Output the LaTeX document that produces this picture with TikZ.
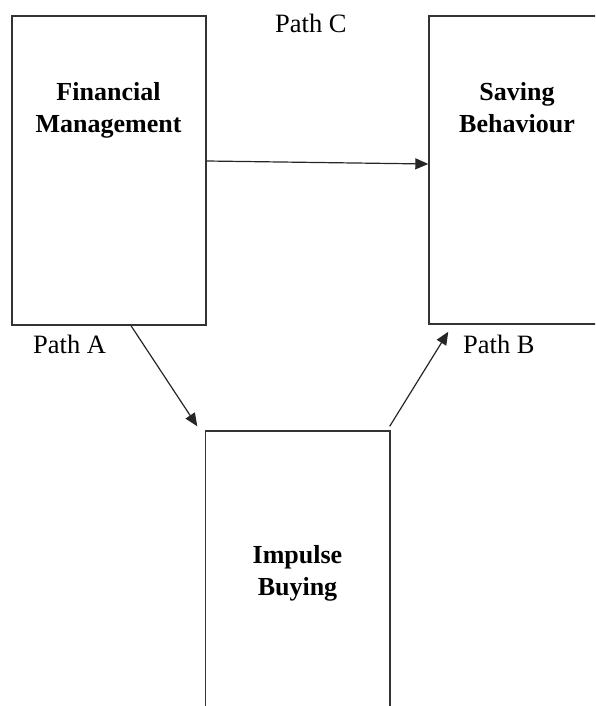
\documentclass[tikz,border=0pt]{standalone}
\usepackage{fontspec}
\setmainfont{Liberation Serif}
\usetikzlibrary{arrows.meta,calc}
\begin{document}
\begin{tikzpicture}[x=1pt,y=-1pt,
  boxstyle/.style={draw=black!80,line width=1.4pt,rectangle,inner sep=0pt},
  boxtext/.style={font=\fontsize{26}{32}\selectfont\bfseries,align=center,anchor=base,inner sep=0pt},
  pathlabel/.style={font=\fontsize{26.5}{31}\selectfont,anchor=base west,inner sep=0pt},
  conn/.style={draw=black!85,line width=1.2pt,-{Triangle[length=13pt,width=11pt]}}]
\useasboundingbox (0,0) rectangle (595,706);
\clip (0,0) rectangle (595,706);
% boxes
\node[boxstyle,minimum width=194pt,minimum height=309pt] (fm) at (109,170.5) {};
\node[boxstyle,minimum width=176pt,minimum height=308pt] (sb) at (517,170) {};
\node[boxstyle,minimum width=184.5pt,minimum height=300pt] (ib) at (297.75,581) {};
% box texts (base = baseline of last line)
\node[boxtext] (fmt) at (108.5,132) {Financial\\Management};
\node[boxtext] (sbt) at (517,132) {Saving\\Behaviour};
\node[boxtext] (ibt) at (297.5,595) {Impulse\\Buying};
% path labels
\node[pathlabel] (pc) at (275,33) {Path C};
\node[pathlabel] (pa) at (33,353) {Path A};
\node[pathlabel] (pb) at (463,353) {Path B};
% connectors
\draw[conn] ([yshift=9.5pt]fm.east) -- ([yshift=6pt]sb.west);
\draw[conn] ([xshift=22pt]fm.south) -- ([xshift=-7.5pt,yshift=4pt]ib.north west);
\draw[conn] ([xshift=-1pt,yshift=4pt]ib.north east) -- ([xshift=20pt,yshift=-7pt]sb.south west);
\end{tikzpicture}
\end{document}
